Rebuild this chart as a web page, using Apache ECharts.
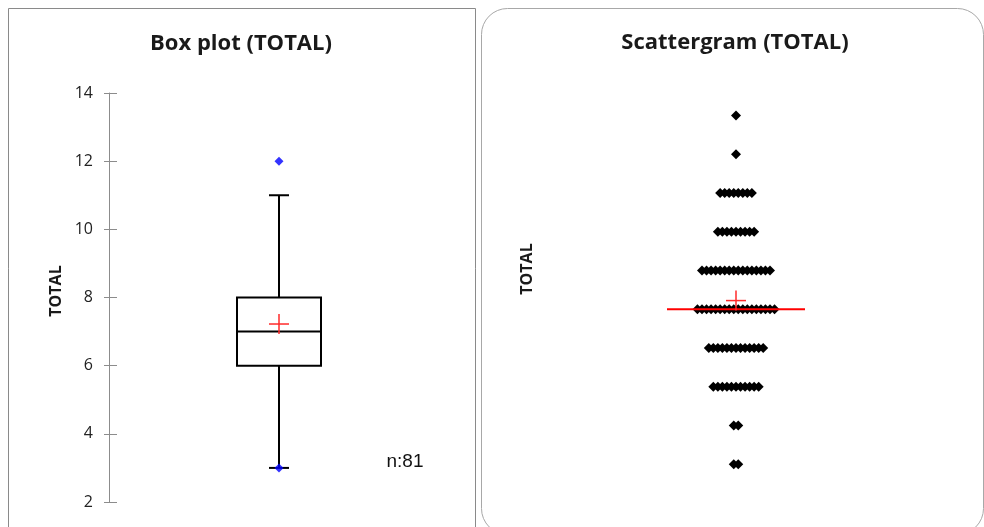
<!DOCTYPE html>
<html>
<head>
<meta charset="utf-8">
<script src="https://cdn.jsdelivr.net/npm/echarts@6/dist/echarts.min.js"></script>
<style>
  html, body { margin: 0; padding: 0; background: #ffffff; }
  #chart { width: 984px; height: 527px; }
</style>
</head>
<body>
<div id="chart"></div>
<script>
// TOTAL scores and how many respondents gave each one
const totalValues = [3, 4, 5, 6, 7, 8, 9, 10, 11, 12];
const totalCounts = [2, 2, 11, 13, 18, 16, 9, 8, 1, 1];

// Box plot summary: lower whisker, Q1, median, Q3, upper whisker
const boxStats = [3, 6, 7, 8, 11];
// Minimum and maximum, drawn as blue markers
const flaggedPoints = [3, 12];

// Y axis tick labels of the box plot
const totalTicks = [2, 4, 6, 8, 10, 12, 14];

const n = totalCounts.reduce((a, b) => a + b, 0);
const mean = totalValues.reduce((s, v, i) => s + v * totalCounts[i], 0) / n;

// Dot plot: stack the points of each value side by side around the centre
const dotData = [];
totalValues.forEach((v, i) => {
  const c = totalCounts[i];
  for (let j = 0; j < c; j++) dotData.push([j - (c - 1) / 2, v]);
});

const FONT = '"Open Sans", "Liberation Sans", sans-serif';
const AXIS_GREY = '#8c8c8c';

const chart = echarts.init(document.getElementById('chart'), null, { renderer: 'canvas' });

// Box + whiskers with short caps
function renderBox(params, api) {
  const x = api.value(0);
  const lo = api.coord([x, api.value(1)]);
  const q1 = api.coord([x, api.value(2)]);
  const med = api.coord([x, api.value(3)]);
  const q3 = api.coord([x, api.value(4)]);
  const hi = api.coord([x, api.value(5)]);
  const cx = lo[0], hw = 42, cap = 10;
  const line = { stroke: '#000', lineWidth: 2, fill: null };
  return {
    type: 'group',
    children: [
      { type: 'line', shape: { x1: cx, y1: hi[1], x2: cx, y2: q3[1] }, style: line },
      { type: 'line', shape: { x1: cx, y1: q1[1], x2: cx, y2: lo[1] }, style: line },
      { type: 'line', shape: { x1: cx - cap, y1: hi[1], x2: cx + cap, y2: hi[1] }, style: line },
      { type: 'line', shape: { x1: cx - cap, y1: lo[1], x2: cx + cap, y2: lo[1] }, style: line },
      { type: 'rect', shape: { x: cx - hw, y: q3[1], width: hw * 2, height: q1[1] - q3[1] },
        style: { stroke: '#000', lineWidth: 2, fill: '#fff' } },
      { type: 'line', shape: { x1: cx - hw, y1: med[1], x2: cx + hw, y2: med[1] }, style: line }
    ]
  };
}

// Red "+" marking the mean
function renderMean(params, api) {
  const p = api.coord([api.value(0), api.value(1)]);
  const s = 10;
  const st = { stroke: '#ff2a2a', lineWidth: 1.5 };
  return {
    type: 'group',
    children: [
      { type: 'line', shape: { x1: p[0] - s, y1: p[1], x2: p[0] + s, y2: p[1] }, style: st },
      { type: 'line', shape: { x1: p[0], y1: p[1] - s, x2: p[0], y2: p[1] + s }, style: st }
    ]
  };
}

// Red horizontal line at the median of the dot plot
function renderMedianLine(params, api) {
  const p = api.coord([api.value(0), api.value(1)]);
  const hl = 69;
  return {
    type: 'line',
    shape: { x1: p[0] - hl, y1: p[1], x2: p[0] + hl, y2: p[1] },
    style: { stroke: '#ff0000', lineWidth: 2 }
  };
}

const option = {
  backgroundColor: '#ffffff',
  animation: false,
  title: [
    { text: 'Box plot (TOTAL)', left: 241, top: 33, textAlign: 'center', padding: 0,
      textStyle: { fontFamily: FONT, fontSize: 22, fontWeight: 'bold', color: '#1a1a1a' } },
    { text: 'Scattergram (TOTAL)', left: 735, top: 32, textAlign: 'center', padding: 0,
      textStyle: { fontFamily: FONT, fontSize: 22, fontWeight: 'bold', color: '#1a1a1a' } }
  ],
  graphic: [
    { type: 'rect', z: -10, shape: { x: 8.5, y: 8.5, width: 467, height: 560 },
      style: { fill: null, stroke: '#8a8a8a', lineWidth: 1 } },
    { type: 'rect', z: -10, shape: { x: 481.5, y: 8.5, width: 502, height: 526, r: 26 },
      style: { fill: null, stroke: '#a8a8a8', lineWidth: 1 } },
    { type: 'text', x: 405, y: 462,
      style: { text: 'n:' + n, font: '19px "Liberation Sans", Arial, sans-serif', fill: '#111',
               textAlign: 'center', textVerticalAlign: 'middle' } },
    { type: 'text', x: 56, y: 291, rotation: Math.PI / 2,
      style: { text: 'TOTAL', font: 'bold 16px ' + FONT, fill: '#1a1a1a',
               textAlign: 'center', textVerticalAlign: 'middle' } },
    { type: 'text', x: 527, y: 269, rotation: Math.PI / 2,
      style: { text: 'TOTAL', font: 'bold 16px ' + FONT, fill: '#1a1a1a',
               textAlign: 'center', textVerticalAlign: 'middle' } }
  ],
  grid: [
    { left: 109, top: 93, width: 340, height: 409 },
    { left: 600, top: 96, width: 272, height: 407 }
  ],
  xAxis: [
    { type: 'category', gridIndex: 0, data: ['TOTAL'], show: false },
    { type: 'value', gridIndex: 1, min: -30, max: 30, show: false }
  ],
  yAxis: [
    {
      type: 'value', gridIndex: 0, position: 'left',
      min: totalTicks[0], max: totalTicks[totalTicks.length - 1],
      interval: totalTicks[1] - totalTicks[0],
      axisLine: { show: true, lineStyle: { color: AXIS_GREY, width: 1 } },
      axisTick: { show: true, length: 5, lineStyle: { color: AXIS_GREY } },
      axisLabel: { margin: 16, fontFamily: FONT, fontSize: 16, color: '#222' },
      splitLine: { show: false }
    },
    {
      // inward half of the crossing tick marks
      type: 'value', gridIndex: 0, position: 'left',
      min: totalTicks[0], max: totalTicks[totalTicks.length - 1],
      interval: totalTicks[1] - totalTicks[0],
      axisLine: { show: false },
      axisTick: { show: true, inside: true, length: 8, lineStyle: { color: AXIS_GREY } },
      axisLabel: { show: false },
      splitLine: { show: false }
    },
    { type: 'value', gridIndex: 1, min: 2, max: 12.5, show: false }
  ],
  series: [
    {
      type: 'custom', name: 'box', xAxisIndex: 0, yAxisIndex: 0,
      renderItem: renderBox,
      data: [[0, ...boxStats]],
      z: 2
    },
    {
      type: 'scatter', name: 'min/max', xAxisIndex: 0, yAxisIndex: 0,
      symbol: 'diamond', symbolSize: 9,
      itemStyle: { color: '#0000ff' },
      data: flaggedPoints.map(v => [0, v]),
      z: 4
    },
    {
      type: 'custom', name: 'mean', xAxisIndex: 0, yAxisIndex: 0,
      renderItem: renderMean,
      data: [[0, mean]],
      z: 5
    },
    {
      type: 'scatter', name: 'TOTAL', xAxisIndex: 1, yAxisIndex: 2,
      symbol: 'diamond', symbolSize: 10,
      itemStyle: { color: '#000000', opacity: 1 },
      data: dotData,
      z: 2
    },
    {
      type: 'custom', name: 'median', xAxisIndex: 1, yAxisIndex: 2,
      renderItem: renderMedianLine,
      data: [[0, boxStats[2]]],
      z: 3
    },
    {
      type: 'custom', name: 'mean2', xAxisIndex: 1, yAxisIndex: 2,
      renderItem: renderMean,
      data: [[0, mean]],
      z: 5
    }
  ]
};

chart.setOption(option);
</script>
</body>
</html>
